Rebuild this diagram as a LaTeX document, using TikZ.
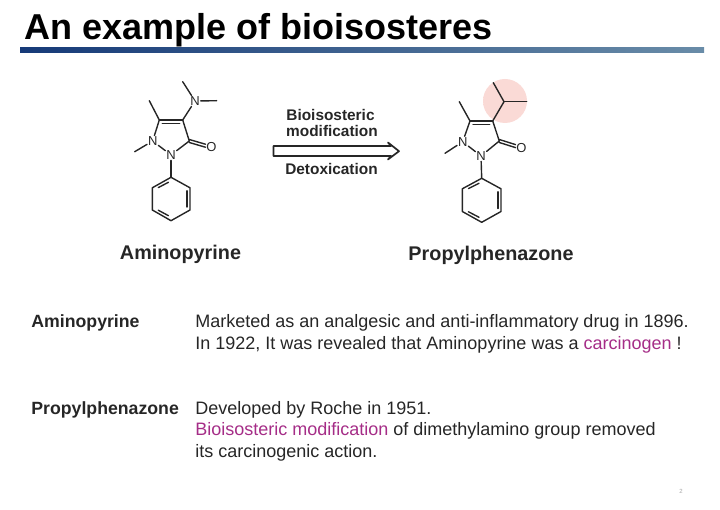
\documentclass[tikz,border=0pt]{standalone}
\usepackage{fontspec}
\usetikzlibrary{calc}
\setmainfont{Liberation Sans}
\definecolor{inkgray}{RGB}{38,38,38}
\definecolor{drugpurple}{RGB}{165,45,135}
\definecolor{barleft}{RGB}{22,58,120}
\definecolor{barright}{RGB}{105,140,168}
\definecolor{haloin}{RGB}{250,218,214}
\definecolor{haloout}{RGB}{232,160,158}
\pgfdeclareradialshading{halo}{\pgfpoint{0bp}{0bp}}{color(0bp)=(haloin); color(30bp)=(haloin); color(50bp)=(haloout)}
\tikzset{
	every picture/.style={line width=0.75pt},
	bond/.style={line width=1.4pt,draw=inkgray,line cap=round,line join=round},
	atom/.style={inner sep=0.6pt,text=inkgray,font=\fontsize{13}{14}\selectfont},
	caption/.style={anchor=base west,inner sep=0pt,text=inkgray,font=\fontsize{18}{20}\selectfont},
	drugname/.style={anchor=base,inner sep=0pt,text=inkgray,font=\bfseries\fontsize{19.8}{22}\selectfont},
	rowname/.style={anchor=base west,inner sep=0pt,text=inkgray,font=\bfseries\fontsize{17.7}{20}\selectfont},
	arrowtext/.style={anchor=base,inner sep=0pt,text=inkgray,font=\bfseries\fontsize{15.4}{17}\selectfont}}

\begin{document}
\begin{tikzpicture}[x=1pt,y=1pt,yscale=-1,xscale=1]
	\useasboundingbox (0,0) rectangle (720,510);

	% Title
	\node (title) [anchor=base west,inner sep=0pt,font=\bfseries\fontsize{36}{40}\selectfont] at (24,40) {An example of bioisosteres};
	% Title bar
	\shade [left color=barleft,right color=barright] (20,47.5) rectangle (704,53);

	%Aminopyrine atoms
	\node (aN1) [atom] at (152.7,141) {N};
	\node (aN2) [atom] at (171,155) {N};
	\node (aNm) [atom] at (195,101) {N};
	\node (aO) [atom] at (211.5,147.5) {O};
	\coordinate (aC3) at (189.3,141);
	\coordinate (aC4) at (182.7,120);
	\coordinate (aC5) at (159.3,120);
	\coordinate (aMe1) at (134.7,151.7);
	\coordinate (aMe5) at (149.3,100.7);
	\coordinate (aMe6) at (182.7,81.7);
	\coordinate (aMe7) at (216.7,100.7);
	\coordinate (aP1) at (171,177.3);
	\coordinate (aP2) at (190,187.8);
	\coordinate (aP3) at (190,210);
	\coordinate (aP4) at (171,220.7);
	\coordinate (aP5) at (152.3,210);
	\coordinate (aP6) at (152.3,187.8);
	%Aminopyrine bonds
	\draw [bond] (aN1) -- (aN2);
	\draw [bond] (aN2) -- (aC3);
	\draw [bond] (aC3) -- (aC4);
	\draw [bond] (aC4) -- (aC5);
	\draw [bond] (aC5) -- (aN1);
	\draw [bond] (aN1) -- (aMe1);
	\draw [bond] (aC5) -- (aMe5);
	\draw [bond] (aC4) -- (aNm);
	\draw [bond] (aNm) -- (aMe6);
	\draw [bond] (aNm) -- (aMe7);
	\draw [bond] (aN2) -- (aP1);
	\draw [bond] (aP1) -- (aP2) -- (aP3) -- (aP4) -- (aP5) -- (aP6) -- cycle;
	\draw [bond,transform canvas={yshift=-1.5pt}] (aC3) -- (aO);
	\draw [bond,transform canvas={yshift=1.5pt}] (aC3) -- (aO);
	\draw [bond] ($(aC5)+(3,3.6)$) -- ($(aC4)+(-3,3.6)$);
	\draw [bond] ($(aP1)!0.17!(aP6)+(0.6,3.2)$) -- ($(aP6)!0.17!(aP1)+(2.8,1.6)$);
	\draw [bond] ($(aP2)+(-3.2,3)$) -- ($(aP3)+(-3.2,-3)$);
	\draw [bond] ($(aP5)!0.17!(aP4)+(2.8,-1.6)$) -- ($(aP4)!0.17!(aP5)+(0.6,-3.2)$);

	%Shape: Halo
	\shade [shading=halo] (505,101) circle (22);

	%Propylphenazone atoms
	\node (pN1) [atom] at (462.7,141.7) {N};
	\node (pN2) [atom] at (481,156) {N};
	\node (pO) [atom] at (521.5,148) {O};
	\coordinate (pC3) at (499.3,141);
	\coordinate (pC4) at (492.7,121);
	\coordinate (pC5) at (470,121);
	\coordinate (pMe1) at (445,153.3);
	\coordinate (pMe5) at (459.3,101.7);
	\coordinate (pCH) at (504,101.7);
	\coordinate (pMe6) at (493.3,82.7);
	\coordinate (pMe7) at (526.7,101.7);
	\coordinate (pP1) at (481.7,178.3);
	\coordinate (pP2) at (501,188.8);
	\coordinate (pP3) at (501,211.5);
	\coordinate (pP4) at (481.7,222.3);
	\coordinate (pP5) at (462.3,211.5);
	\coordinate (pP6) at (462.3,188.8);
	%Propylphenazone bonds
	\draw [bond] (pN1) -- (pN2);
	\draw [bond] (pN2) -- (pC3);
	\draw [bond] (pC3) -- (pC4);
	\draw [bond] (pC4) -- (pC5);
	\draw [bond] (pC5) -- (pN1);
	\draw [bond] (pN1) -- (pMe1);
	\draw [bond] (pC5) -- (pMe5);
	\draw [bond] (pC4) -- (pCH);
	\draw [bond] (pCH) -- (pMe6);
	\draw [bond] (pCH) -- (pMe7);
	\draw [bond] (pN2) -- (pP1);
	\draw [bond] (pP1) -- (pP2) -- (pP3) -- (pP4) -- (pP5) -- (pP6) -- cycle;
	\draw [bond,transform canvas={yshift=-1.5pt}] (pC3) -- (pO);
	\draw [bond,transform canvas={yshift=1.5pt}] (pC3) -- (pO);
	\draw [bond] ($(pC5)+(3,3.6)$) -- ($(pC4)+(-3,3.6)$);
	\draw [bond] ($(pP1)!0.17!(pP6)+(0.6,3.2)$) -- ($(pP6)!0.17!(pP1)+(2.8,1.6)$);
	\draw [bond] ($(pP2)+(-3.2,3)$) -- ($(pP3)+(-3.2,-3)$);
	\draw [bond] ($(pP5)!0.17!(pP4)+(2.8,-1.6)$) -- ($(pP4)!0.17!(pP5)+(0.6,-3.2)$);

	%Shape: Block Arrow
	\draw [line width=1.7pt,draw=inkgray,fill=white,line join=round] (273.5,146) -- (391,146) -- (388,142.5) -- (399,151.2) -- (388,159.5) -- (391,156) -- (273.5,156) -- cycle;

	% Text Node
	\node (bioiso) [arrowtext] at (330.5,121) {Bioisosteric};
	% Text Node
	\node (modif) [arrowtext] at (332,136.5) {modification};
	% Text Node
	\node (detox) [arrowtext] at (331.5,174.5) {Detoxication};
	% Text Node
	\node (amino) [drugname] at (180.5,260) {Aminopyrine};
	% Text Node
	\node (propyl) [drugname] at (491,261) {Propylphenazone};

	% Text Node
	\node (rowa) [rowname] at (31,327.2) {Aminopyrine};
	% Text Node
	\node (rowa1) [caption] at (195,327.7) {Marketed as an analgesic and anti-inflammatory drug in 1896.};
	% Text Node
	\node (rowa2) [caption] at (195,349.2) {In 1922, It was revealed that Aminopyrine was a \textcolor{drugpurple}{carcinogen} !};
	% Text Node
	\node (rowp) [rowname] at (31,414.2) {Propylphenazone};
	% Text Node
	\node (rowp1) [caption] at (195,414.2) {Developed by Roche in 1951.};
	% Text Node
	\node (rowp2) [caption] at (195,435.5) {\textcolor{drugpurple}{Bioisosteric modification} of dimethylamino group removed};
	% Text Node
	\node (rowp3) [caption] at (195,457.2) {its carcinogenic action.};
	% Text Node
	\node (pageno) [inner sep=0pt,text=black!35,font=\fontsize{6}{7}\selectfont] at (681,491) {2};
\end{tikzpicture}
\end{document}
